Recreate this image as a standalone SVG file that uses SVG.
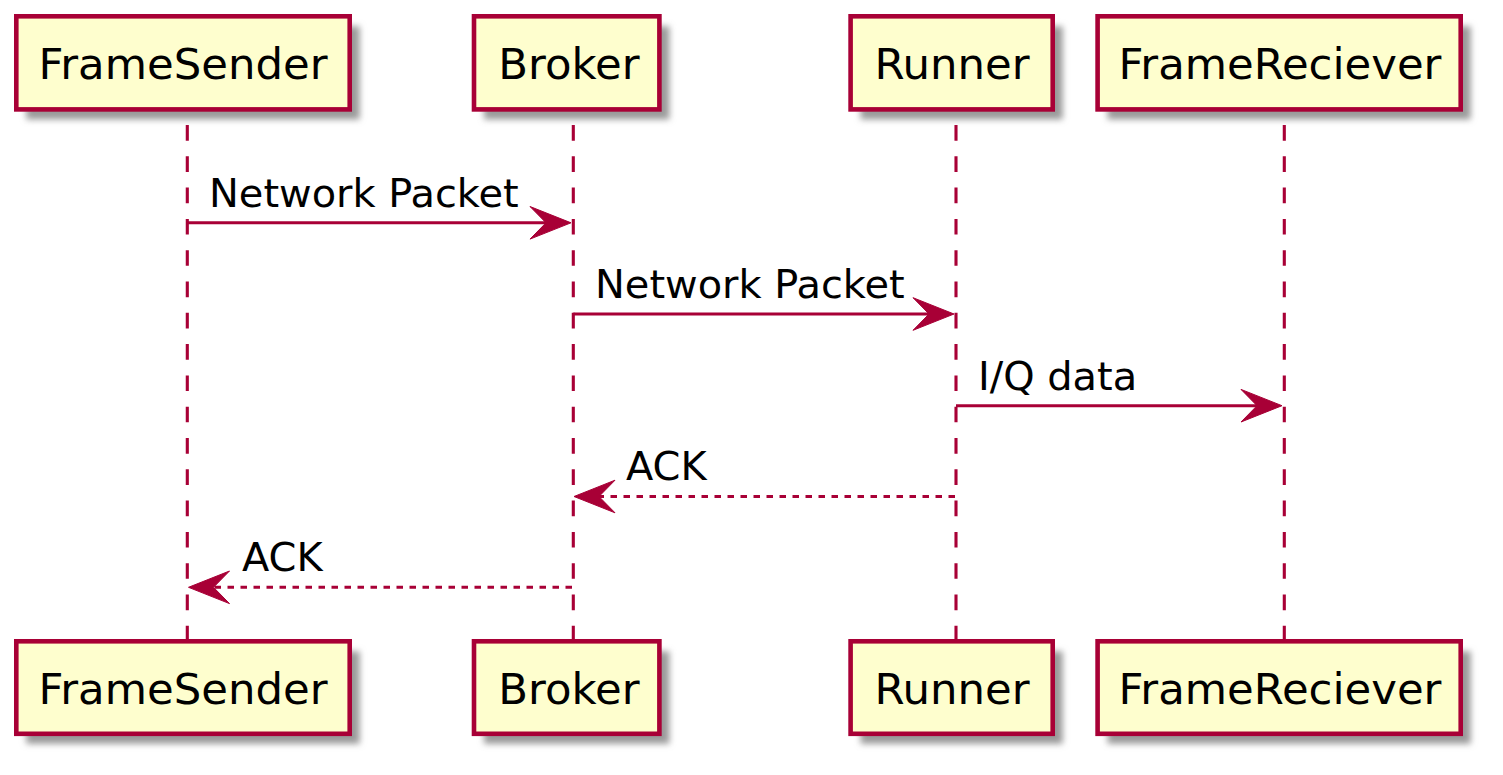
<svg xmlns="http://www.w3.org/2000/svg" width="1503" height="775" viewBox="0 0 1503 775">
<style>
.box{fill:#FEFECE;stroke:#A80036;stroke-width:4.6}
.shadow{fill:#9a9a9a;filter:url(#blur)}
.pname{font-family:"DejaVu Sans","Noto Sans",sans-serif;font-size:43.4px;fill:#000;text-anchor:middle}
.life{stroke:#A80036;stroke-width:3.1;stroke-dasharray:15.65,15.65;fill:none}
.msg{stroke:#A80036;stroke-width:3.1;fill:none}
.dot{stroke-dasharray:6.5,6.5}
.head{fill:#A80036;stroke:#A80036;stroke-width:1}
.lbl{font-family:"DejaVu Sans","Noto Sans",sans-serif;font-size:39.9px;fill:#000}
</style>
<defs>
<filter id="blur" x="-10%" y="-20%" width="120%" height="140%"><feGaussianBlur stdDeviation="3"/></filter>
</defs>
<rect width="1503" height="775" fill="#FFFFFF"/>
<g id="lifelines">
<line class="life" x1="187.3" y1="125" x2="187.3" y2="640"/>
<line class="life" x1="573.3" y1="125" x2="573.3" y2="640"/>
<line class="life" x1="956" y1="125" x2="956" y2="640"/>
<line class="life" x1="1284.3" y1="125" x2="1284.3" y2="640"/>
</g>
<g id="FrameSender">
<rect class="shadow" x="26.3" y="26.3" width="333.4" height="93.1"/>
<rect class="box" x="16.3" y="16.3" width="333.4" height="93.1"/>
<text class="pname" x="183" y="79.3">FrameSender</text>
<rect class="shadow" x="26.3" y="651.3" width="333.4" height="92.5"/>
<rect class="box" x="16.3" y="641.3" width="333.4" height="92.5"/>
<text class="pname" x="183" y="703.5">FrameSender</text>
</g>
<g id="Broker">
<rect class="shadow" x="484" y="26.3" width="185.4" height="93.1"/>
<rect class="box" x="474" y="16.3" width="185.4" height="93.1"/>
<text class="pname" x="569" y="79.3">Broker</text>
<rect class="shadow" x="484" y="651.3" width="185.4" height="92.5"/>
<rect class="box" x="474" y="641.3" width="185.4" height="92.5"/>
<text class="pname" x="569" y="703.5">Broker</text>
</g>
<g id="Runner">
<rect class="shadow" x="860.6" y="26.3" width="202.1" height="93.1"/>
<rect class="box" x="850.6" y="16.3" width="202.1" height="93.1"/>
<text class="pname" x="952" y="79.3">Runner</text>
<rect class="shadow" x="860.6" y="651.3" width="202.1" height="92.5"/>
<rect class="box" x="850.6" y="641.3" width="202.1" height="92.5"/>
<text class="pname" x="952" y="703.5">Runner</text>
</g>
<g id="FrameReciever">
<rect class="shadow" x="1107.6" y="26.3" width="363.1" height="93.1"/>
<rect class="box" x="1097.6" y="16.3" width="363.1" height="93.1"/>
<text class="pname" x="1280" y="79.3">FrameReciever</text>
<rect class="shadow" x="1107.6" y="651.3" width="363.1" height="92.5"/>
<rect class="box" x="1097.6" y="641.3" width="363.1" height="92.5"/>
<text class="pname" x="1280" y="703.5">FrameReciever</text>
</g>
<g id="connectors">
<line class="msg" x1="187.3" y1="222.8" x2="560" y2="222.8"/>
<polygon class="head" points="571,222.8 530,206.5 546,222.8 530,239.1"/>
<text class="lbl" x="209" y="206.5">Network Packet</text>

<line class="msg" x1="573.3" y1="314" x2="944" y2="314"/>
<polygon class="head" points="954,314 913,297.7 929,314 913,330.3"/>
<text class="lbl" x="595" y="297.8">Network Packet</text>

<line class="msg" x1="956" y1="405.7" x2="1272" y2="405.7"/>
<polygon class="head" points="1282,405.7 1241,389.4 1257,405.7 1241,422"/>
<text class="lbl" x="978" y="389.5">I/Q data</text>

<line class="msg dot" x1="955" y1="496.5" x2="590" y2="496.5"/>
<polygon class="head" points="574,496.5 615,480.2 599,496.5 615,512.8"/>
<text class="lbl" x="626" y="480.3">ACK</text>

<line class="msg dot" x1="572" y1="587.3" x2="204" y2="587.3"/>
<polygon class="head" points="188.5,587.3 229.5,571 213.5,587.3 229.5,603.6"/>
<text class="lbl" x="242" y="570.8">ACK</text>
</g>
</svg>
